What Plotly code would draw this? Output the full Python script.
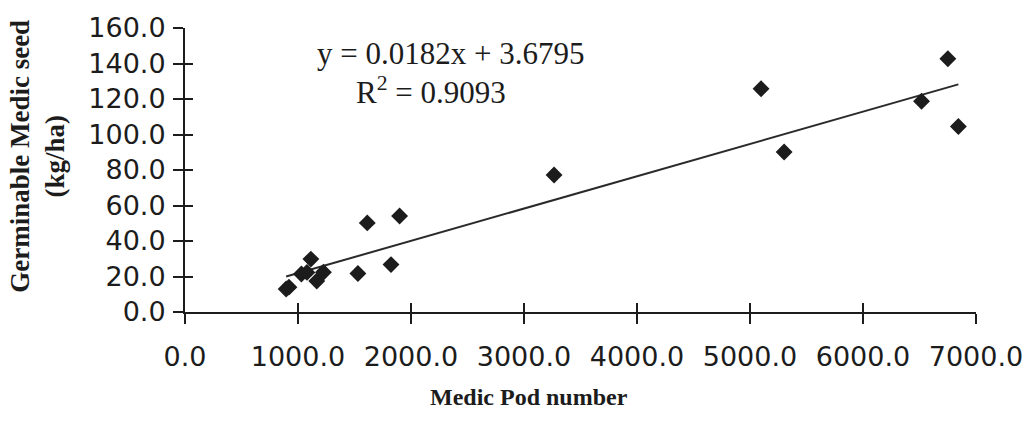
import plotly.graph_objects as go

# Data
pod_number = [895, 920, 1030, 1079, 1114, 1166, 1225, 1530, 1613, 1823, 1899,
              3266, 5098, 5302, 6518, 6751, 6844]
germinable_seed = [13.0, 14.0, 21.4, 22.3, 29.8, 17.5, 22.4, 21.7, 50.2, 26.7, 54.1,
                   77.2, 125.8, 90.1, 118.7, 142.7, 104.5]
slope = 0.0182
intercept = 3.6795
r_squared = 0.9093
x_ticks = [0, 1000, 2000, 3000, 4000, 5000, 6000, 7000]
y_ticks = [0, 20, 40, 60, 80, 100, 120, 140, 160]

W, H = 1035, 421
L, R, T, B = 185, 49, 19, 109

trend_x = [min(pod_number), max(pod_number)]
trend_y = [slope * v + intercept for v in trend_x]

ink = "#1c1c1c"
tick_font = dict(family="DejaVu Sans", size=27, color=ink)
serif = "Liberation Serif, Times New Roman, serif"

fig = go.Figure()
fig.add_trace(go.Scatter(x=trend_x, y=trend_y, mode="lines",
                         line=dict(color="#2a2a2a", width=2), showlegend=False,
                         hoverinfo="skip"))
fig.add_trace(go.Scatter(x=pod_number, y=germinable_seed, mode="markers",
                         marker=dict(symbol="diamond", size=13, color=ink),
                         showlegend=False))
# invisible trace to carry the overlay axes (inner half of crossing ticks)
fig.add_trace(go.Scatter(x=[x_ticks[0]], y=[y_ticks[0]], xaxis="x2", yaxis="y2",
                         mode="markers", marker=dict(opacity=0), showlegend=False,
                         hoverinfo="skip"))

fig.update_layout(
    width=W, height=H,
    margin=dict(l=L, r=R, t=T, b=B, pad=0),
    paper_bgcolor="white", plot_bgcolor="white",
    xaxis=dict(range=[0, 7000], tickvals=x_ticks,
               ticktext=[f"{v:.1f}" for v in x_ticks],
               showgrid=False, zeroline=False, showline=True, linecolor=ink,
               linewidth=2, ticks="outside", ticklen=10, tickwidth=2,
               tickcolor=ink, tickfont=tick_font, ticklabelstandoff=10),
    yaxis=dict(range=[0, 160], tickvals=y_ticks,
               ticktext=[f"{v:.1f}" for v in y_ticks],
               showgrid=False, zeroline=False, showline=True, linecolor=ink,
               linewidth=2, ticks="outside", ticklen=10, tickwidth=2,
               tickcolor=ink, tickfont=tick_font, ticklabelstandoff=2),
    xaxis2=dict(range=[0, 7000], tickvals=x_ticks, overlaying="x", anchor="y",
                side="bottom", showgrid=False, zeroline=False, showline=False,
                ticks="inside", ticklen=9, tickwidth=2, tickcolor=ink,
                showticklabels=False),
    yaxis2=dict(range=[0, 160], tickvals=y_ticks, overlaying="y", anchor="x",
                side="left", showgrid=False, zeroline=False, showline=False,
                ticks="inside", ticklen=8, tickwidth=2, tickcolor=ink,
                showticklabels=False),
    annotations=[
        dict(text=f"y = {slope}x + {intercept}", xref="paper", yref="paper",
             x=(454 - L) / (W - L - R), y=(H - B - 45) / (H - T - B),
             showarrow=False, xanchor="center", yanchor="middle",
             font=dict(family=serif, size=31, color=ink)),
        dict(text=f"R<sup>2</sup> = {r_squared}", xref="paper", yref="paper",
             x=(434 - L) / (W - L - R), y=(H - B - 83) / (H - T - B),
             showarrow=False, xanchor="center", yanchor="middle",
             font=dict(family=serif, size=31, color=ink)),
        dict(text="<b>Germinable Medic seed</b><br><b>(kg/ha)</b>", xref="paper",
             yref="paper", x=(36 - L) / (W - L - R),
             y=(H - B - 151) / (H - T - B), textangle=-90, showarrow=False,
             xanchor="center", yanchor="middle",
             font=dict(family=serif, size=27, color=ink)),
        dict(text="<b>Medic Pod number</b>", xref="paper", yref="paper",
             x=(533 - L) / (W - L - R), y=(H - B - 400) / (H - T - B),
             showarrow=False, xanchor="center", yanchor="middle",
             font=dict(family=serif, size=24, color=ink)),
    ],
)

fig.write_html("out.html")
